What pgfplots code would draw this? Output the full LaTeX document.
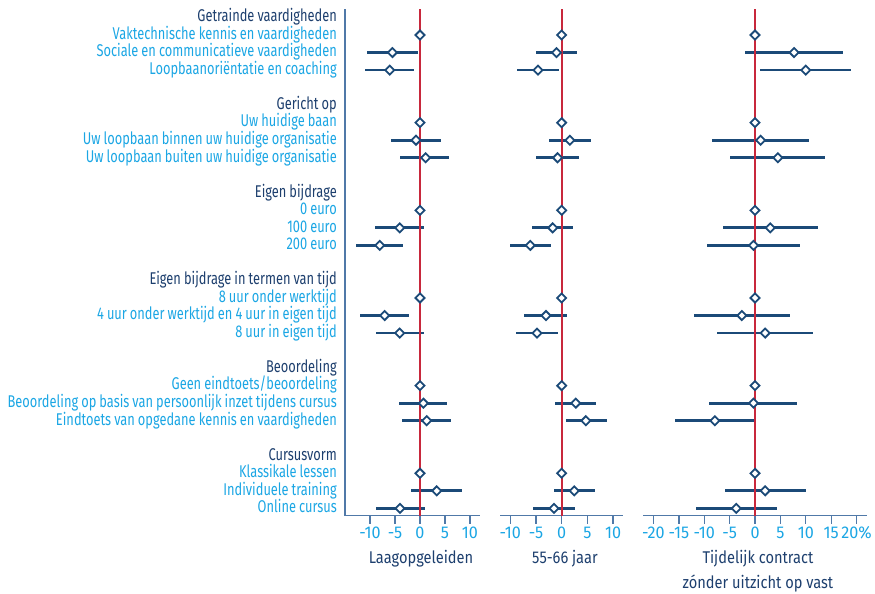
\documentclass[border=0pt]{standalone}
\usepackage{pgfplots}
\pgfplotsset{compat=1.18}
\usepackage{pgfplotstable}
\usepackage{fontspec}
\setmainfont{Fira Sans}[FakeStretch=0.755, WordSpace=0.9]
\newfontfamily\widefont{Fira Sans}[FakeStretch=0.86]
\newfontfamily\tickfont{Fira Sans}[FakeStretch=0.95]

\definecolor{navy}{HTML}{1B4A78}
\definecolor{darktext}{HTML}{1D3F6E}
\definecolor{lightblue}{HTML}{1BA6E4}
\definecolor{zeroline}{HTML}{C8283C}
\definecolor{axisblue}{HTML}{5079A8}

\newcommand{\hdr}[1]{\textcolor{darktext}{#1}}
\newcommand{\itm}[1]{\textcolor{lightblue}{#1}}

% row: position from the top, est: point estimate, lo/hi: interval
\pgfplotstableread{
row est lo hi
1 0 0 0
2 -5.52 -10.66 -0.40
3 -6.06 -11.06 -1.12
6 0 0 0
7 -0.80 -5.72 4.14
8 1.14 -4.00 5.88
11 0 0 0
12 -4.06 -9.00 0.80
13 -8.06 -12.72 -3.40
16 0 0 0
17 -7.06 -12.00 -2.20
18 -4.06 -8.86 0.80
21 0 0 0
22 0.68 -4.12 5.34
23 1.34 -3.52 6.20
26 0 0 0
27 3.34 -1.86 8.40
28 -4.00 -8.86 0.94
}\laag

\pgfplotstableread{
row est lo hi
1 0 0 0
2 -1.00 -5.00 3.05
3 -4.60 -8.65 -0.60
6 0 0 0
7 1.60 -2.40 5.80
8 -0.80 -4.90 3.35
11 0 0 0
12 -1.75 -5.70 2.20
13 -6.10 -10.05 -2.05
16 0 0 0
17 -3.05 -7.30 1.00
18 -4.80 -8.95 -0.70
21 0 0 0
22 2.75 -1.30 6.70
23 4.70 0.90 8.75
26 0 0 0
27 2.45 -1.50 6.50
28 -1.50 -5.50 2.55
}\oud

\pgfplotstableread{
row est lo hi
1 0 0 0
2 7.7 -2.0 17.4
3 10.0 0.9 19.0
6 0 0 0
7 1.1 -8.4 10.6
8 4.5 -4.9 13.8
11 0 0 0
12 3.0 -6.3 12.4
13 -0.3 -9.4 8.8
16 0 0 0
17 -2.6 -12.1 6.9
18 2.0 -7.5 11.4
21 0 0 0
22 -0.3 -9.0 8.2
23 -7.9 -15.8 0.0
26 0 0 0
27 2.0 -6.0 10.1
28 -3.7 -11.6 4.3
}\tijdelijk

\pgfplotsset{
  coef/.style={
    scale only axis, height=506.7pt,
    y dir=reverse, ymin=-0.485, ymax=28.42,
    clip=false,
    axis line style={axisblue, line width=1.3pt},
    tick align=outside, major tick length=8pt,
    xtick style={axisblue, line width=1.3pt},
    ytick style={draw=none},
    ticklabel style={font=\fontsize{17}{20}\selectfont},
    xticklabel style={font=\tickfont\fontsize{17}{20}\selectfont,
      text=lightblue, anchor=base, inner sep=0pt, yshift=-14.8pt},
    xlabel style={font=\widefont\fontsize{17}{25}\selectfont, text=darktext,
      align=center, anchor=north, inner sep=0pt, yshift=-34.3pt},
  },
  ci/.style={draw=none, mark=none, forget plot,
    error bars/.cd, x dir=both, x explicit, error mark=none,
    error bar style={draw=navy, line width=2.8pt, line cap=butt}},
  pt/.style={only marks, mark=square*, mark size=3.2pt,
    mark options={rotate=45, draw=navy, fill=white, line width=1.8pt}},
  zero/.style={zeroline, line width=2pt, forget plot},
}

\begin{document}
\begin{tikzpicture}
\useasboundingbox (0,0) rectangle (875pt,-594pt);

\begin{axis}[coef,
  at={(345pt,-9pt)}, anchor=north west,
  width=135pt, xmin=-15, xmax=12,
  axis lines*=left,
  xtick={-10,-5,0,5,10}, xticklabels={-10,-5,0,5,10},
  ytick={0,1,2,3,5,6,7,8,10,11,12,13,15,16,17,18,20,21,22,23,25,26,27,28},
  yticklabels={
    \hdr{Getrainde vaardigheden},
    \itm{Vaktechnische kennis en vaardigheden},
    \itm{Sociale en communicatieve vaardigheden},
    \itm{Loopbaanoriëntatie en coaching},
    \hdr{Gericht op},
    \itm{Uw huidige baan},
    \itm{Uw loopbaan binnen uw huidige organisatie},
    \itm{Uw loopbaan buiten uw huidige organisatie},
    \hdr{Eigen bijdrage},
    \itm{0 euro},
    \itm{100 euro},
    \itm{200 euro},
    \hdr{Eigen bijdrage in termen van tijd},
    \itm{8 uur onder werktijd},
    \itm{4 uur onder werktijd en 4 uur in eigen tijd},
    \itm{8 uur in eigen tijd},
    \hdr{Beoordeling},
    \itm{Geen eindtoets/beoordeling},
    \itm{Beoordeling op basis van persoonlijk inzet tijdens cursus},
    \itm{Eindtoets van opgedane kennis en vaardigheden},
    \hdr{Cursusvorm},
    \itm{Klassikale lessen},
    \itm{Individuele training},
    \itm{Online cursus}},
  yticklabel style={anchor=base east, inner sep=0pt, yshift=-4.3pt},
  xlabel={Laagopgeleiden},
  xlabel style={at={(axis description cs:0.563,0)}},
]
\addplot[ci] table[x=est, y=row,
  x error plus expr=\thisrow{hi}-\thisrow{est},
  x error minus expr=\thisrow{est}-\thisrow{lo}] {\laag};
\addplot[zero] coordinates {(0,-0.485) (0,28.42)};
\addplot[pt] table[x=est, y=row] {\laag};
\end{axis}

\begin{axis}[coef,
  at={(500pt,-9pt)}, anchor=north west,
  width=123.3pt, xmin=-12, xmax=12,
  axis x line*=bottom, axis y line=none,
  xtick={-10,-5,0,5,10}, xticklabels={-10,-5,0,5,10},
  ytick=\empty,
  xlabel={55-66 jaar},
  xlabel style={at={(axis description cs:0.527,0)}},
]
\addplot[ci] table[x=est, y=row,
  x error plus expr=\thisrow{hi}-\thisrow{est},
  x error minus expr=\thisrow{est}-\thisrow{lo}] {\oud};
\addplot[zero] coordinates {(0,-0.485) (0,28.42)};
\addplot[pt] table[x=est, y=row] {\oud};
\end{axis}

\begin{axis}[coef,
  at={(643.3pt,-9pt)}, anchor=north west,
  width=223.4pt, xmin=-22, xmax=22,
  axis x line*=bottom, axis y line=none,
  xtick={-20,-15,-10,-5,0,5,10,15,20},
  xticklabels={-20,-15,-10,-5,0,5,10,15,20\%},
  ytick=\empty,
  xlabel={Tijdelijk contract\\zónder uitzicht op vast},
  xlabel style={at={(axis description cs:0.513,0)}},
]
\addplot[ci] table[x=est, y=row,
  x error plus expr=\thisrow{hi}-\thisrow{est},
  x error minus expr=\thisrow{est}-\thisrow{lo}] {\tijdelijk};
\addplot[zero] coordinates {(0,-0.485) (0,28.42)};
\addplot[pt] table[x=est, y=row] {\tijdelijk};
\end{axis}
\end{tikzpicture}
\end{document}
